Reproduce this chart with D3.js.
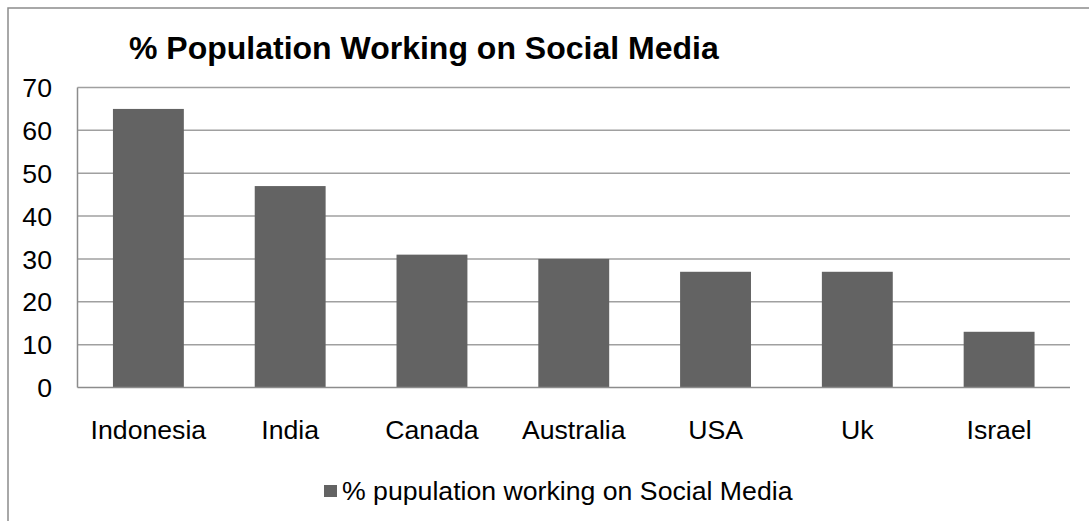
<!DOCTYPE html>
<html>
<head>
<meta charset="utf-8">
<script src="https://cdn.jsdelivr.net/npm/d3@7/dist/d3.min.js"></script>
<style>
  html, body { margin: 0; padding: 0; background: #fff; }
  svg { display: block; font-family: "Liberation Sans", Arial, sans-serif; }
</style>
</head>
<body>
<svg id="chart" width="1089" height="521"></svg>
<script>
const categories = ["Indonesia", "India", "Canada", "Australia", "USA", "Uk", "Israel"];
const values = [65, 47, 31, 30, 27, 27, 13];
const yTicks = [0, 10, 20, 30, 40, 50, 60, 70];
const titleText = "% Population Working on Social Media";
const seriesName = "% pupulation working on Social Media";

(function () {
const svg = d3.select("#chart");
const W = 1089, H = 521;
const labelSize = 26.67;

// outer chart border
svg.append("rect")
  .attr("x", 8).attr("y", 8).attr("width", W + 10).attr("height", H + 10)
  .attr("fill", "#fff").attr("stroke", "#8c8c8c").attr("stroke-width", 1.5);

const pLeft = 77.5, pRight = 1070, pTop = 87.5, pBottom = 387.5;

const x = d3.scaleBand().domain(categories).range([pLeft, pRight]).paddingInner(0.5).paddingOuter(0.25);
const y = d3.scaleLinear().domain([0, 70]).range([pBottom, pTop]);

// gridlines
svg.append("g").selectAll("line").data(yTicks.filter(d => d > 0)).join("line")
  .attr("x1", pLeft).attr("x2", pRight)
  .attr("y1", d => y(d)).attr("y2", d => y(d))
  .attr("stroke", "#a0a0a0").attr("stroke-width", 1.5);

// bars
svg.append("g").selectAll("rect").data(categories).join("rect")
  .attr("x", d => x(d))
  .attr("width", x.bandwidth())
  .attr("y", (d, i) => y(values[i]))
  .attr("height", (d, i) => y(0) - y(values[i]))
  .attr("fill", "#636363");

// axes lines
svg.append("line").attr("x1", pLeft).attr("x2", pLeft).attr("y1", pTop).attr("y2", pBottom)
  .attr("stroke", "#8c8c8c").attr("stroke-width", 1.5);
svg.append("line").attr("x1", pLeft).attr("x2", pRight).attr("y1", pBottom).attr("y2", pBottom)
  .attr("stroke", "#8c8c8c").attr("stroke-width", 1.5);

// y tick labels
svg.append("g").selectAll("text").data(yTicks).join("text")
  .attr("x", 52).attr("y", d => y(d))
  .attr("dy", "0.36em")
  .attr("text-anchor", "end")
  .attr("font-size", labelSize).attr("fill", "#000")
  .text(d => d);

// x category labels
svg.append("g").selectAll("text").data(categories).join("text")
  .attr("x", d => x(d) + x.bandwidth() / 2).attr("y", 438.5)
  .attr("text-anchor", "middle")
  .attr("font-size", labelSize).attr("fill", "#000")
  .text(d => d);

// title
svg.append("text")
  .attr("x", 129).attr("y", 59)
  .attr("font-size", 32).attr("font-weight", "bold").attr("fill", "#000")
  .text(titleText);

// legend
svg.append("rect").attr("x", 324).attr("y", 485).attr("width", 13).attr("height", 12).attr("fill", "#636363");
svg.append("text").attr("x", 342).attr("y", 500)
  .attr("font-size", labelSize).attr("fill", "#000")
  .text(seriesName);
})();
</script>
</body>
</html>
